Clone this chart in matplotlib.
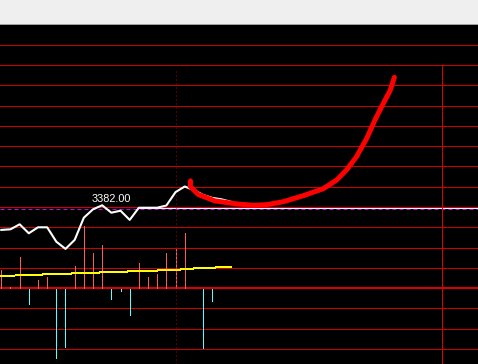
import numpy as np
import matplotlib
matplotlib.use("Agg")
import matplotlib.pyplot as plt
from matplotlib.lines import Line2D

# ---------------- data ----------------
# intraday bar index (5-min bars) and price line
price = [3369.7, 3370.0, 3372.5, 3368.0, 3371.0, 3371.0, 3363.8, 3360.2, 3364.7,
         3375.8, 3380.0, 3382.0, 3378.3, 3379.3, 3374.7, 3380.8, 3380.8, 3380.8,
         3381.9, 3388.6, 3391.4, 3389.6, 3387.2, 3385.7, 3385.0, 3383.8]
# net volume bars (positive = red, negative = cyan)
volume = [1800, 150, 3100, -1570, 800, 1100, -6970, -5870, 2200, 6200, 3500, 4300,
          -1070, -270, -2670, 2500, 1100, 1400, 3500, 3900, 5500, 0, -5970, -1270]
# volume moving-average line (yellow)
vol_ma = [1170, 1230, 1270, 1300, 1330, 1370, 1400, 1430, 1460, 1490, 1520, 1560,
          1590, 1620, 1660, 1690, 1720, 1750, 1780, 1820, 1880, 1950, 2000, 2040,
          2070, 2080]
# hand-drawn red annotation curve (bar index, price)
curve_x = [20.63, 20.61, 21.48, 23.30, 25.67, 27.48, 28.94, 30.75, 32.93, 35.11,
           36.58, 37.67, 38.76, 39.85, 40.75, 41.66, 42.39, 42.86]
curve_y = [3394.2, 3391.4, 3387.4, 3384.2, 3382.7, 3382.0, 3382.3, 3383.8, 3386.8,
           3390.3, 3394.7, 3399.8, 3406.5, 3415.5, 3424.7, 3433.0, 3439.3, 3446.0]
high_label = "3382.00"
high_index = 11
prev_close = 3380.0
ref_level = 3380.8
ref_start = 15
cursor_index = 19
session_end = 48.05

# ---------------- figure ----------------
W, H = 478, 364
fig = plt.figure(figsize=(W / 100, H / 100), dpi=100, facecolor="#efefef")
top_px = 24
rect = [0, 0, 1, (H - top_px) / H]
fig.add_artist(Line2D([0, 1], [(H - 23.5) / H] * 2, color="#a0a0a0", lw=0.72,
                      antialiased=False))
PX = 0.72  # one pixel in points at 100 dpi


def blank(ax):
    ax.set_xticks([]); ax.set_yticks([])
    for s in ax.spines.values():
        s.set_visible(False)


# background grid axes (styling only, pixel rows)
bg = fig.add_axes(rect, facecolor="black")
blank(bg)
bg.set_xlim(0, 1)
bg.set_ylim(H - top_px, 0)
grid_rows = np.floor(20.2 + 20.28 * np.arange(16)) + 0.5
for i, gy in enumerate(grid_rows):
    if i == 12:
        bg.axhline(gy + 0.5, color="#d80000", lw=2 * PX, antialiased=False)
    else:
        bg.axhline(gy, color="#d00000", lw=PX, antialiased=False)

xlim = (-0.142, 51.98)

# volume axes
av = fig.add_axes(rect)
av.patch.set_visible(False)
blank(av)
av.set_xlim(*xlim)
av.set_ylim(-7600, 26400)
xs = np.arange(len(volume))
vol = np.array(volume)
pos = vol > 0
neg = vol < 0
av.vlines(xs[pos], 0, vol[pos], colors="#ff5a5a", lw=PX, antialiased=False)
av.vlines(xs[neg], -100, vol[neg], colors="#55ffff", lw=PX, antialiased=False)
av.plot(np.arange(len(vol_ma)), vol_ma, color="#ffff00", lw=PX, antialiased=False)

# price axes
ap = fig.add_axes(rect)
ap.patch.set_visible(False)
blank(ap)
ap.set_xlim(*xlim)
ap.set_ylim(3302.65, 3472.65)

ap.axhline(prev_close, color="#d000d0", lw=PX, ls=(0, (4, 3)))
ap.hlines(ref_level, ref_start, xlim[1], color="white", lw=PX, antialiased=False)
ap.axvline(cursor_index, ymin=0, ymax=(H - 68) / (H - top_px), color="#a00000",
           lw=PX, ls=(0, (1, 3)))
ap.axvline(session_end, ymin=0, ymax=(H - 65) / (H - top_px), color="#e00000",
           lw=PX, antialiased=False)

ap.plot(np.arange(len(price)), price, color="white", lw=1.5, solid_joinstyle="round")
ap.annotate(high_label, xy=(high_index, price[high_index]), xytext=(6.5, 4.7),
            textcoords="offset points", ha="center", va="center", color="white",
            fontsize=7.8, family="Liberation Sans")
ap.plot(curve_x, curve_y, color="#ff0000", lw=3.6, solid_capstyle="round",
        solid_joinstyle="round")

fig.savefig("out.png", dpi=100, facecolor=fig.get_facecolor())
